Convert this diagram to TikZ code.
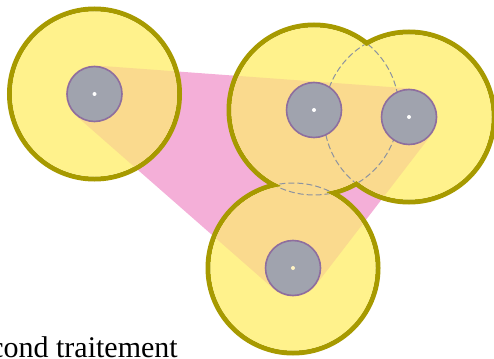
\documentclass[tikz,border=0pt]{standalone}
\usepackage{fontspec}
\setmainfont{Liberation Serif}
\definecolor{zoneyellow}{HTML}{FFF28C}
\definecolor{rimolive}{HTML}{A79A00}
\definecolor{hullpink}{HTML}{F4AFD8}
\definecolor{overlaporange}{HTML}{FADA8E}
\definecolor{coregray}{HTML}{A0A3AE}
\definecolor{corepurple}{HTML}{8E6E9E}
\definecolor{lensgray}{HTML}{8C93A0}
\definecolor{dotcream}{HTML}{FFF3C4}
\begin{document}
\begin{tikzpicture}[x=1pt,y=-1pt,line width=.6pt,
  rimline/.style={draw=rimolive,line width=5pt},
  hullpath/.style={line width=57pt,line join=round},
  lensline/.style={draw=lensgray,line width=1pt,dash pattern=on 6pt off 3pt},
  coredisc/.style={fill=coregray,draw=corepurple,line width=1.6pt}]
  \useasboundingbox (0,0) rectangle (494,358);
  \coordinate (A) at (94.5,94);
  \coordinate (B) at (314,110);
  \coordinate (C) at (409,117);
  \coordinate (D) at (293,268);
  % hull of the three cores
  \fill[hullpink] (A)--(C)--(D)--cycle;
  \draw[hullpink,hullpath] (A)--(C)--(D)--cycle;
  % rims, then zones over them
  \foreach \p in {A,B,C,D} \draw[rimline] (\p) circle (85);
  \fill[zoneyellow] (A) circle (82.5) (B) circle (82.5) (C) circle (82.5) (D) circle (82.5);
  \begin{scope}
    \clip (A) circle (82.5) (B) circle (82.5) (C) circle (82.5) (D) circle (82.5);
    \fill[overlaporange] (A)--(C)--(D)--cycle;
    \draw[overlaporange,hullpath] (A)--(C)--(D)--cycle;
  \end{scope}
  % dashed lenses
  \foreach \p/\q in {B/C,C/B,B/D,D/B}{
    \begin{scope}
      \clip (\q) circle (82.5);
      \draw[lensline] (\p) circle (85);
    \end{scope}}
  \foreach \p in {A,B,C,D} \draw[coredisc] (\p) circle (27.5);
  \fill[white] (A) circle (2pt) (B) circle (2pt) (C) circle (2pt);
  \fill[dotcream] (D) circle (2pt);
  \node[anchor=base west,inner sep=0,font=\fontsize{30}{36}\selectfont] (caption) at (-10,357) {cond traitement};
\end{tikzpicture}
\end{document}
